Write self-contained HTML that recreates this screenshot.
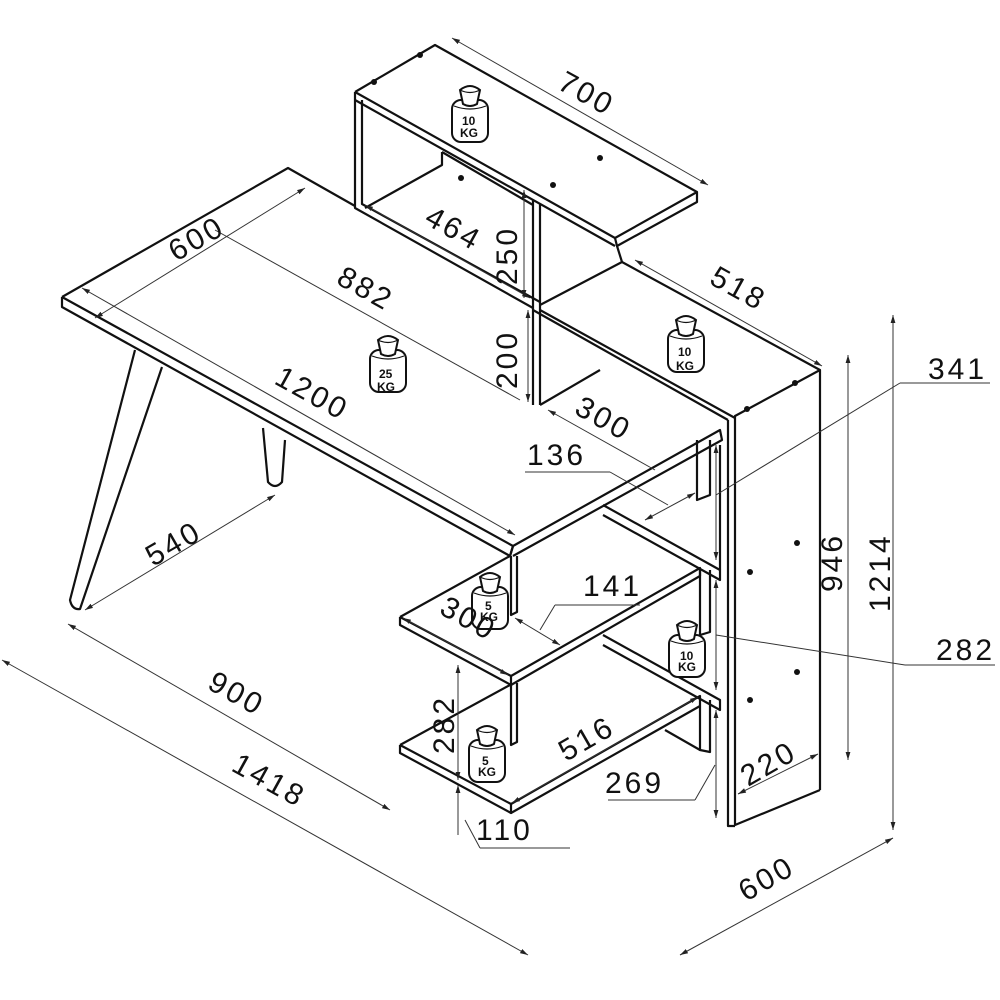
<!DOCTYPE html>
<html><head><style>
html,body{margin:0;padding:0;background:#fff}
svg{display:block}
text{font-family:"Liberation Sans",sans-serif;font-size:30px;fill:#111;letter-spacing:3px}
.k{font-size:12px;font-weight:bold;letter-spacing:0}
</style></head><body>
<svg width="1000" height="1000" viewBox="0 0 1000 1000" xmlns="http://www.w3.org/2000/svg">
<defs>
<marker id="a" viewBox="0 0 10 10" refX="10" refY="5" markerWidth="8" markerHeight="8" orient="auto-start-reverse"><path d="M0,2 L10,5 L0,8z" fill="#222"/></marker>
<g id="w">
<rect x="-18" y="0" width="36" height="42" rx="9" fill="#fff" stroke="#111" stroke-width="2"/>
<path d="M-16,6 Q0,12 16,6" fill="none" stroke="#111" stroke-width="1.2"/>
<path d="M-7,4 L-10,-10 Q0,-18 10,-10 L7,4 Q0,8 -7,4Z" fill="#fff" stroke="#111" stroke-width="2"/>
<path d="M-10,-10 Q0,-5 10,-10" fill="none" stroke="#111" stroke-width="1.2"/>
</g>
</defs>
<g fill="none" stroke="#111" stroke-width="2.2" stroke-linejoin="round">
<path d="M62,297 L288,168 L355,206"/>
<path d="M62,297 L62,307 L510,556 L513,546 L62,297"/>
<path d="M510,556 L513,546 L720,430 L722,440 L513,556"/>
<path d="M135,350 L70,600 Q72,610 80,609 L162,367"/>
<path d="M263,428 L268,482 Q275,490 282,482 L285,440"/>
<path d="M355,92 L435,45 L697,192 L697,202 L617,246 L615,238 L697,192"/>
<path d="M355,92 L615,238 M355,100 L615,246"/>
<path d="M355,92 L355,208 L533,308 M362,100 L362,204 L540,302"/>
<path d="M442,152 L442,165 L365,208 M442,152 L533,205"/>
<path d="M533,200 L533,405 M540,204 L540,405"/>
<path d="M617,246 L622,262 L540,305"/>
<path d="M540,310 L735,418 M533,310 L728,420"/>
<path d="M622,262 L820,370 L820,790 M820,370 L735,416 L735,825 L820,790"/>
<path d="M728,420 L728,826 L735,826"/>
<path d="M540,405 L600,370"/>
<path d="M697,440 L697,500 L710,495 L710,440"/>
<path d="M720,445 L720,570"/>
<path d="M400,617 L510,556 M400,617 L400,625 L511,685 L511,676 L400,617"/>
<path d="M511,676 L700,568 L700,576 L511,685"/>
<path d="M511,556 L511,615 L517,612 L517,556"/>
<path d="M603,505 L720,570 L720,580 L603,515"/>
<path d="M700,568 L700,635 L710,632 L710,570"/>
<path d="M511,685 L511,745 L517,742 L517,683"/>
<path d="M400,745 L510,685 M400,745 L400,753 L511,813 L511,804 L400,745"/>
<path d="M511,804 L700,696 L700,706 L511,813"/>
<path d="M603,635 L720,700 L720,710 L603,645"/>
<path d="M700,706 L700,750 L710,752 L710,700"/>
<path d="M665,730 L700,750"/>
</g>
<g fill="#111">
<circle cx="420" cy="55" r="3"/><circle cx="374" cy="82" r="3"/><circle cx="600" cy="158" r="3"/><circle cx="553" cy="185" r="3"/><circle cx="461" cy="178" r="3"/>
<circle cx="795" cy="383" r="3"/><circle cx="747" cy="409" r="3"/>
<circle cx="797" cy="543" r="3"/><circle cx="750" cy="572" r="3"/><circle cx="797" cy="672" r="3"/><circle cx="750" cy="700" r="3"/>
</g>
<use href="#w" x="470" y="100"/><text class="k" x="462" y="125">10</text><text class="k" x="460" y="137">KG</text>
<use href="#w" x="388" y="350"/><text class="k" x="379" y="378">25</text><text class="k" x="377" y="391">KG</text>
<use href="#w" x="686" y="330"/><text class="k" x="678" y="356">10</text><text class="k" x="676" y="370">KG</text>
<use href="#w" x="490" y="587"/><text class="k" x="485" y="610">5</text><text class="k" x="480" y="621">KG</text>
<use href="#w" x="687" y="635"/><text class="k" x="680" y="660">10</text><text class="k" x="678" y="671">KG</text>
<use href="#w" x="487" y="740"/><text class="k" x="482" y="765">5</text><text class="k" x="478" y="776">KG</text>
<g stroke="#333" stroke-width="1" fill="none">
<line x1="452" y1="38" x2="708" y2="185" marker-start="url(#a)" marker-end="url(#a)"/>
<line x1="635" y1="260" x2="822" y2="366" marker-start="url(#a)" marker-end="url(#a)"/>
<line x1="95" y1="318" x2="305" y2="188" marker-start="url(#a)" marker-end="url(#a)"/>
<line x1="82" y1="288" x2="515" y2="535" marker-start="url(#a)" marker-end="url(#a)"/>
<line x1="215" y1="230" x2="520" y2="400"/>
<line x1="365" y1="205" x2="530" y2="298" marker-start="url(#a)" marker-end="url(#a)"/>
<line x1="524" y1="190" x2="524" y2="298" marker-start="url(#a)" marker-end="url(#a)"/>
<line x1="528" y1="310" x2="528" y2="402" marker-start="url(#a)" marker-end="url(#a)"/>
<line x1="85" y1="610" x2="275" y2="495" marker-start="url(#a)" marker-end="url(#a)"/>
<line x1="68" y1="624" x2="390" y2="810" marker-start="url(#a)" marker-end="url(#a)"/>
<line x1="2" y1="660" x2="528" y2="955" marker-start="url(#a)" marker-end="url(#a)"/>
<line x1="548" y1="410" x2="655" y2="470" marker-start="url(#a)"/>
<line x1="525" y1="472" x2="610" y2="472"/><line x1="610" y1="472" x2="668" y2="505"/>
<line x1="645" y1="520" x2="695" y2="493" marker-start="url(#a)" marker-end="url(#a)"/>
<line x1="403" y1="618" x2="508" y2="675" marker-start="url(#a)" marker-end="url(#a)"/>
<line x1="515" y1="618" x2="560" y2="645" marker-start="url(#a)" marker-end="url(#a)"/>
<line x1="540" y1="630" x2="555" y2="605"/><line x1="555" y1="605" x2="640" y2="605"/>
<line x1="458" y1="665" x2="458" y2="780" marker-start="url(#a)" marker-end="url(#a)"/>
<line x1="458" y1="785" x2="458" y2="835" marker-start="url(#a)"/>
<line x1="465" y1="820" x2="480" y2="848"/><line x1="480" y1="848" x2="570" y2="848"/>
<line x1="512" y1="803" x2="698" y2="697" marker-start="url(#a)" marker-end="url(#a)"/>
<line x1="608" y1="800" x2="695" y2="800"/><line x1="695" y1="800" x2="715" y2="765"/>
<line x1="716" y1="445" x2="716" y2="560" marker-start="url(#a)" marker-end="url(#a)"/>
<line x1="716" y1="580" x2="716" y2="690" marker-start="url(#a)" marker-end="url(#a)"/>
<line x1="716" y1="710" x2="716" y2="818" marker-start="url(#a)" marker-end="url(#a)"/>
<line x1="716" y1="495" x2="900" y2="383"/><line x1="900" y1="383" x2="990" y2="383"/>
<line x1="716" y1="635" x2="905" y2="665"/><line x1="905" y1="665" x2="995" y2="665"/>
<line x1="738" y1="794" x2="818" y2="754" marker-start="url(#a)" marker-end="url(#a)"/>
<line x1="848" y1="355" x2="848" y2="760" marker-start="url(#a)" marker-end="url(#a)"/>
<line x1="893" y1="315" x2="893" y2="830" marker-start="url(#a)" marker-end="url(#a)"/>
<line x1="680" y1="955" x2="893" y2="838" marker-start="url(#a)" marker-end="url(#a)"/>
</g>
<text transform="translate(556,88) rotate(29)">700</text>
<text transform="translate(708,283) rotate(29)">518</text>
<text transform="translate(176,262) rotate(-30)">600</text>
<text transform="translate(335,283) rotate(29)">882</text>
<text transform="translate(423,223) rotate(29)">464</text>
<text transform="translate(517,285) rotate(-90)">250</text>
<text transform="translate(517,389) rotate(-90)">200</text>
<text transform="translate(273,383) rotate(29)">1200</text>
<text transform="translate(153,567) rotate(-30)">540</text>
<text transform="translate(206,688) rotate(29)">900</text>
<text transform="translate(230,770) rotate(29)">1418</text>
<text transform="translate(573,413) rotate(29)">300</text>
<text x="527" y="465">136</text>
<text x="583" y="596">141</text>
<text transform="translate(438,613) rotate(29)">300</text>
<text transform="translate(454,754) rotate(-90)">282</text>
<text transform="translate(566,762) rotate(-30)">516</text>
<text x="605" y="793">269</text>
<text x="476" y="840">110</text>
<text transform="translate(748,787) rotate(-30)">220</text>
<text transform="translate(842,592) rotate(-90)">946</text>
<text transform="translate(890,612) rotate(-90)">1214</text>
<text x="928" y="379">341</text>
<text x="936" y="660">282</text>
<text transform="translate(746,902) rotate(-30)">600</text>
</svg>
</body></html>
